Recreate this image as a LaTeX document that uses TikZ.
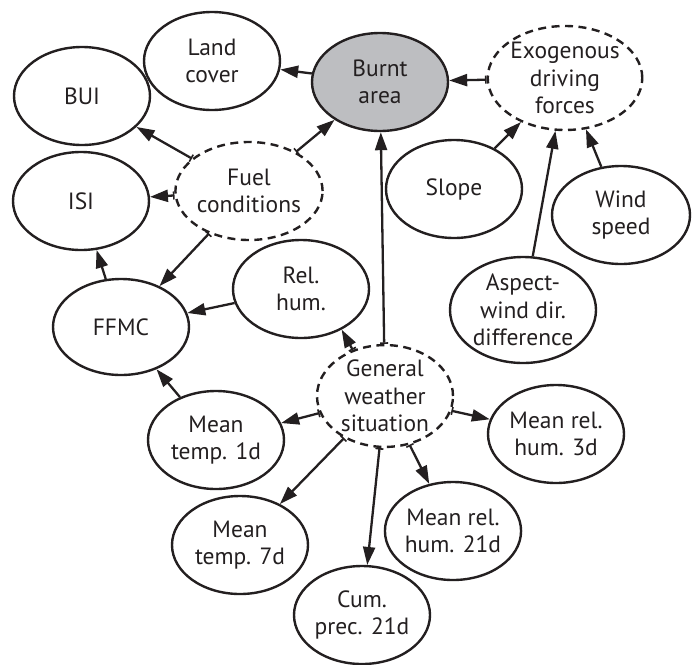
\documentclass[tikz,border=0pt]{standalone}
\usepackage{fontspec}
\setmainfont{PT Sans}
\usetikzlibrary{shapes.geometric,arrows.meta}
\definecolor{burntfill}{RGB}{189,190,193}
\definecolor{ink}{RGB}{35,31,32}
\begin{document}
\begin{tikzpicture}[x=1pt,y=-1pt,
  el/.style={ellipse,draw=ink,text=ink,line width=2.4pt,inner sep=0pt,minimum width=136pt,minimum height=98pt,align=center,font=\fontsize{23.5}{27.5}\selectfont},
  del/.style={el,dash pattern=on 8pt off 5.5pt},
  arr/.style={draw=ink,line width=2.3pt,-{Triangle[length=18pt,width=12pt]}},
  darr/.style={arr,{Bar[width=8pt,line width=1.6pt]}-{Triangle[length=18pt,width=12pt]}}]
\useasboundingbox (0,0) rectangle (698,664);
\node[el,fill=burntfill] (burnt) at (380,82) {Burnt\\area};
\node[el] (land) at (212,61) {Land\\cover};
\node[el] (bui) at (82,96) {BUI};
\node[el] (isi) at (81,201) {ISI};
\node[del] (fuel) at (249,191) {Fuel\\conditions};
\node[del,minimum width=142pt,minimum height=104pt] (exo) at (565,78) {Exogenous\\driving\\forces};
\node[el] (slope) at (454,189) {Slope};
\node[el,minimum width=138pt] (wind) at (621,215) {Wind\\speed};
\node[el,minimum width=146pt,minimum height=106pt] (aspect) at (523,310) {Aspect-\\wind dir.\\difference};
\node[el] (relhum) at (301,289) {Rel.\\hum.};
\node[el,minimum height=96pt] (ffmc) at (121,327) {FFMC};
\node[del] (gen) at (385,396) {General\\weather\\situation};
\node[el] (mt1) at (216,440) {Mean\\temp. 1d};
\node[el] (mt7) at (240,545) {Mean\\temp. 7d};
\node[el] (cum) at (362,615) {Cum.\\prec. 21d};
\node[el] (mrh21) at (453,531) {Mean rel.\\hum. 21d};
\node[el] (mrh3) at (556,434) {Mean rel.\\hum. 3d};
\draw[arr] (burnt) -- (land);
\draw[darr] (exo) -- (burnt);
\draw[darr] (fuel) -- (bui);
\draw[darr] (fuel) -- (isi);
\draw[darr] (fuel) -- (burnt);
\draw[darr] (fuel) -- (ffmc);
\draw[arr] (ffmc) -- (isi);
\draw[arr] (relhum) -- (ffmc);
\draw[arr] (mt1) -- (ffmc);
\draw[darr] (gen.125) -- (relhum.-45);
\draw[darr] (gen) -- (burnt);
\draw[darr] (gen) -- (mt1);
\draw[darr] (gen) -- (mt7);
\draw[darr] (gen) -- (cum);
\draw[darr] (gen) -- (mrh21);
\draw[darr] (gen) -- (mrh3);
\draw[arr] (slope) -- (exo);
\draw[arr] (aspect) -- (exo);
\draw[arr] (wind) -- (exo);
\end{tikzpicture}
\end{document}
